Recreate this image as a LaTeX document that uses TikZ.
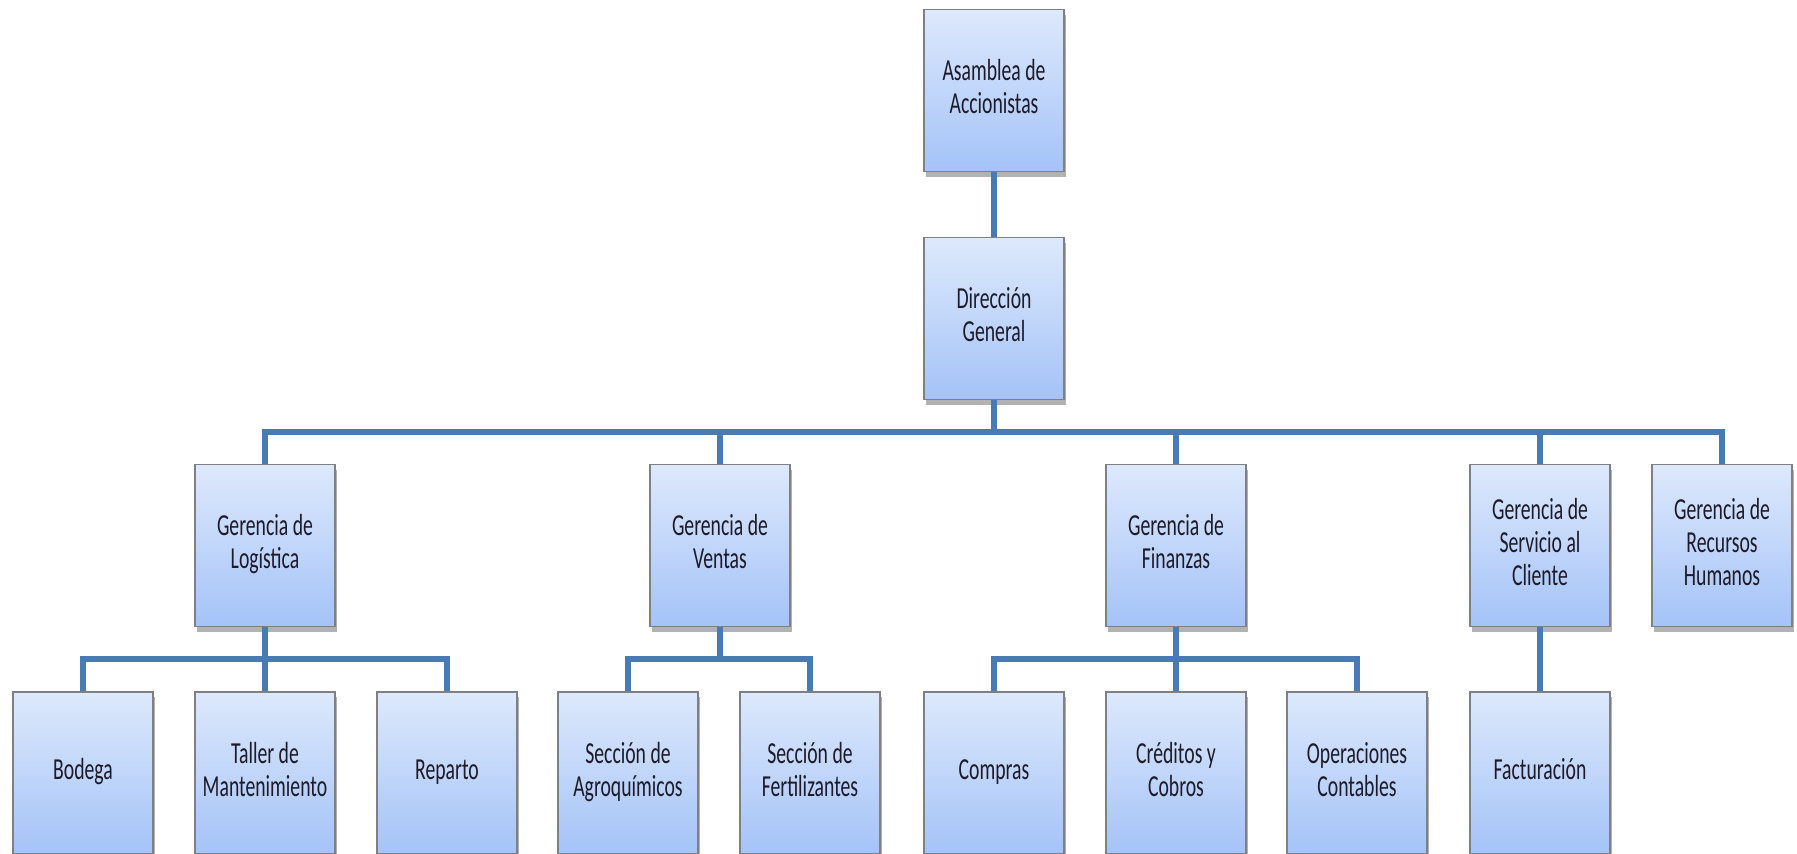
\documentclass[tikz,border=0pt]{standalone}
\usepackage{fontspec}
\usepackage{graphicx}
\setmainfont{Carlito}
\usetikzlibrary{shadows,calc}

\definecolor{boxtop}{RGB}{221,233,252}
\definecolor{boxbot}{RGB}{164,195,248}
\definecolor{boxline}{RGB}{128,128,132}
\definecolor{linkblue}{RGB}{74,122,180}
\definecolor{inktext}{RGB}{30,26,40}

% tall, narrow lettering used in every box
\newcommand\boxtext[1]{\scalebox{1}[1.55]{\begin{tabular}{@{}c@{}}#1\end{tabular}}}

\begin{document}
\begin{tikzpicture}[x=1pt,y=-1pt,
  orgbox/.style={rectangle, draw=boxline, line width=1.3pt,
    top color=boxtop, bottom color=boxbot,
    minimum width=140pt, minimum height=162pt, inner sep=0pt,
    text=inktext, font=\fontsize{19.7}{21.3}\selectfont,
    drop shadow={shadow xshift=2pt, shadow yshift=-5pt, opacity=0.3, fill=black}},
  link/.style={draw=linkblue, line width=6pt, line join=miter},
  tree/.style={to path={(\tikztostart) |- ($(\tikztostart)!.5!(\tikztotarget)$) -| (\tikztotarget)}}
]
\useasboundingbox (0,0) rectangle (1797,854);

% top levels
\node[orgbox] (asm) at (994,90.5)  {\boxtext{Asamblea de\\Accionistas}};
\node[orgbox] (dg)  at (994,318.5) {\boxtext{Dirección\\General}};

% managements
\node[orgbox] (log) at (265,545.5)  {\boxtext{Gerencia de\\Logística}};
\node[orgbox] (ven) at (720,545.5)  {\boxtext{Gerencia de\\Ventas}};
\node[orgbox] (fin) at (1176,545.5) {\boxtext{Gerencia de\\Finanzas}};
\node[orgbox] (ser) at (1540,545.5) {\boxtext{Gerencia de\\Servicio al\\Cliente}};
\node[orgbox] (rh)  at (1722,545.5) {\boxtext{Gerencia de\\Recursos\\Humanos}};

% sections
\node[orgbox] (bod) at (83,773)   {\boxtext{Bodega}};
\node[orgbox] (tal) at (265,773)  {\boxtext{Taller de\\Mantenimiento}};
\node[orgbox] (rep) at (447,773)  {\boxtext{Reparto}};
\node[orgbox] (agr) at (628,773)  {\boxtext{Sección de\\Agroquímicos}};
\node[orgbox] (fer) at (810,773)  {\boxtext{Sección de\\Fertilizantes}};
\node[orgbox] (com) at (994,773)  {\boxtext{Compras}};
\node[orgbox] (cre) at (1176,773) {\boxtext{Créditos y\\Cobros}};
\node[orgbox] (ope) at (1357,773) {\boxtext{Operaciones\\Contables}};
\node[orgbox] (fac) at (1540,773) {\boxtext{Facturación}};

% connectors
\begin{scope}[on background layer/.try]
\draw[link] (asm.south) -- (dg.north);
\foreach \c in {log,ven,fin,ser,rh} \draw[link] (dg.south) to[tree] (\c.north);
\foreach \c in {bod,tal,rep} \draw[link] (log.south) to[tree] (\c.north);
\foreach \c in {agr,fer} \draw[link] (ven.south) to[tree] (\c.north);
\foreach \c in {com,cre,ope} \draw[link] (fin.south) to[tree] (\c.north);
\draw[link] (ser.south) -- (fac.north);
\end{scope}
\end{tikzpicture}
\end{document}
